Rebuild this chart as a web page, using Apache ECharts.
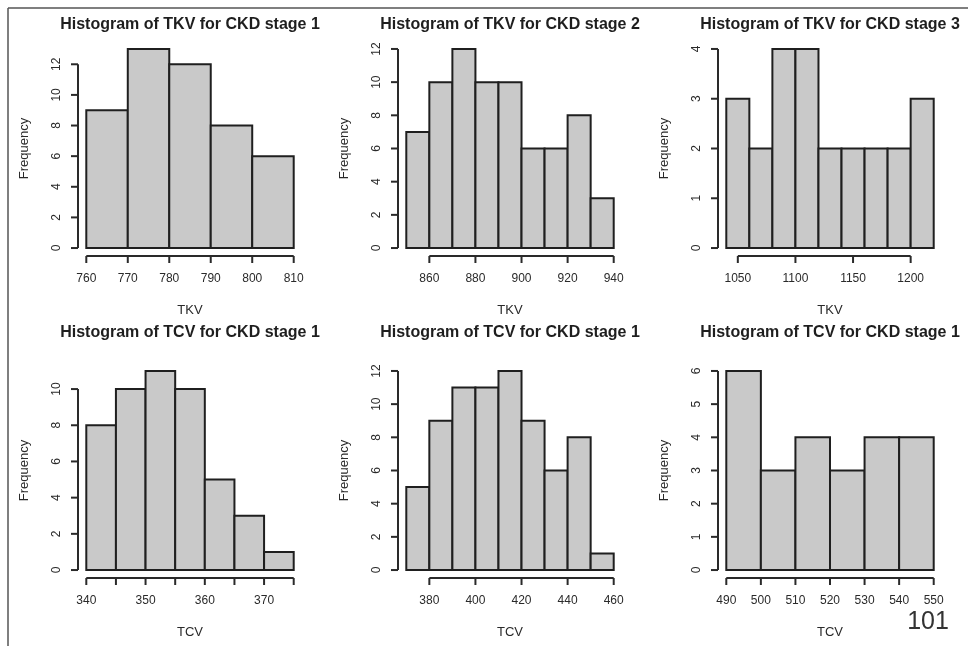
<!DOCTYPE html>
<html><head><meta charset="utf-8">
<script src="https://cdn.jsdelivr.net/npm/echarts@6/dist/echarts.min.js"></script>
<style>html,body{margin:0;padding:0;background:#fff}#c{width:968px;height:646px}</style>
</head><body><div id="c"></div>
<script>
// ---- data ----
const titles = [
  'Histogram of TKV for CKD stage 1',
  'Histogram of TKV for CKD stage 2',
  'Histogram of TKV for CKD stage 3',
  'Histogram of TCV for CKD stage 1',
  'Histogram of TCV for CKD stage 1',
  'Histogram of TCV for CKD stage 1'
];
const xNames = ['TKV', 'TKV', 'TKV', 'TCV', 'TCV', 'TCV'];
const yName = 'Frequency';

const tkv1Breaks = [760, 770, 780, 790, 800, 810];
const tkv1Counts = [9, 13, 12, 8, 6];
const tkv2Breaks = [850, 860, 870, 880, 890, 900, 910, 920, 930, 940];
const tkv2Counts = [7, 10, 12, 10, 10, 6, 6, 8, 3];
const tkv3Breaks = [1040, 1060, 1080, 1100, 1120, 1140, 1160, 1180, 1200, 1220];
const tkv3Counts = [3, 2, 4, 4, 2, 2, 2, 2, 3];
const tcv1Breaks = [340, 345, 350, 355, 360, 365, 370, 375];
const tcv1Counts = [8, 10, 11, 10, 5, 3, 1];
const tcv2Breaks = [370, 380, 390, 400, 410, 420, 430, 440, 450, 460];
const tcv2Counts = [5, 9, 11, 11, 12, 9, 6, 8, 1];
const tcv3Breaks = [490, 500, 510, 520, 530, 540, 550];
const tcv3Counts = [6, 3, 4, 3, 4, 4];

const xTicks1 = [760, 770, 780, 790, 800, 810];
const xLabels1 = [760, 770, 780, 790, 800, 810];
const xTicks2 = [860, 880, 900, 920, 940];
const xLabels2 = [860, 880, 900, 920, 940];
const xTicks3 = [1050, 1100, 1150, 1200];
const xLabels3 = [1050, 1100, 1150, 1200];
const xTicks4 = [340, 345, 350, 355, 360, 365, 370, 375];
const xLabels4 = [340, 350, 360, 370];
const xTicks5 = [380, 400, 420, 440, 460];
const xLabels5 = [380, 400, 420, 440, 460];
const xTicks6 = [490, 500, 510, 520, 530, 540, 550];
const xLabels6 = [490, 500, 510, 520, 530, 540, 550];

const yTicks1 = [0, 2, 4, 6, 8, 10, 12];
const yTicks2 = [0, 2, 4, 6, 8, 10, 12];
const yTicks3 = [0, 1, 2, 3, 4];
const yTicks4 = [0, 2, 4, 6, 8, 10];
const yTicks5 = [0, 2, 4, 6, 8, 10, 12];
const yTicks6 = [0, 1, 2, 3, 4, 5, 6];

const pageNumber = '101';

// ---- layout ----
const panels = [
  {breaks: tkv1Breaks, counts: tkv1Counts, xt: xTicks1, xl: xLabels1, yt: yTicks1},
  {breaks: tkv2Breaks, counts: tkv2Counts, xt: xTicks2, xl: xLabels2, yt: yTicks2},
  {breaks: tkv3Breaks, counts: tkv3Counts, xt: xTicks3, xl: xLabels3, yt: yTicks3},
  {breaks: tcv1Breaks, counts: tcv1Counts, xt: xTicks4, xl: xLabels4, yt: yTicks4},
  {breaks: tcv2Breaks, counts: tcv2Counts, xt: xTicks5, xl: xLabels5, yt: yTicks5},
  {breaks: tcv3Breaks, counts: tcv3Counts, xt: xTicks6, xl: xLabels6, yt: yTicks6}
];
const colLeft = [78, 398, 718];
const rowTop = [41, 363];
const GW = 224, GH = 215;
const FONT = '"Liberation Sans", Arial, sans-serif';
const TXT = '#2a2a2a';
const plain = v => String(Math.round(v));

const grids = [], xAxes = [], yAxes = [], series = [], graphics = [];

panels.forEach((p, i) => {
  const col = i % 3, row = Math.floor(i / 3);
  const left = colLeft[col], top = rowTop[row];
  const bMin = p.breaks[0], bMax = p.breaks[p.breaks.length - 1];
  const xPad = 0.04 * (bMax - bMin);
  const yTop = Math.max.apply(null, p.counts);
  const yPad = 0.04 * yTop;
  const xMin = bMin - xPad, xMax = bMax + xPad;
  const yMin = -yPad, yMax = yTop + yPad;

  grids.push({left: left, top: top, width: GW, height: GH, containLabel: false});
  xAxes.push({
    gridIndex: i, type: 'value', min: xMin, max: xMax,
    axisLine: {show: false}, axisTick: {show: false}, splitLine: {show: false},
    axisLabel: {customValues: p.xl, formatter: plain, margin: 17, fontSize: 12, color: TXT, fontFamily: FONT},
    name: xNames[i], nameLocation: 'middle', nameGap: 48,
    nameTextStyle: {fontSize: 13, color: TXT, fontFamily: FONT}
  });
  yAxes.push({
    gridIndex: i, type: 'value', min: yMin, max: yMax,
    axisLine: {show: false}, axisTick: {show: false}, splitLine: {show: false},
    axisLabel: {customValues: p.yt, formatter: plain, rotate: 90, margin: 15, fontSize: 12, color: TXT, fontFamily: FONT},
    name: yName, nameLocation: 'middle', nameGap: 47,
    nameTextStyle: {fontSize: 13, color: TXT, fontFamily: FONT}
  });

  const binData = p.counts.map((c, k) => [p.breaks[k], p.breaks[k + 1], c]);
  series.push({
    type: 'custom', xAxisIndex: i, yAxisIndex: i, silent: true,
    data: binData,
    encode: {x: [0, 1], y: 2},
    renderItem: function (params, api) {
      const a = api.coord([api.value(0), 0]);
      const b = api.coord([api.value(1), api.value(2)]);
      return {
        type: 'rect',
        shape: {x: a[0], y: b[1], width: b[0] - a[0], height: a[1] - b[1]},
        style: {fill: '#c9c9c9', stroke: '#1f1f1f', lineWidth: 2}
      };
    }
  });

  // R-style axis lines with ticks, drawn through the axis scales
  series.push({
    type: 'custom', xAxisIndex: i, yAxisIndex: i, silent: true, clip: false,
    data: [[p.xt[0], yMin]],
    renderItem: function (params, api) {
      const children = [];
      const st = {stroke: '#2a2a2a', lineWidth: 2, fill: null};
      const xa = api.coord([p.xt[0], yMin]);
      const xb = api.coord([p.xt[p.xt.length - 1], yMin]);
      children.push({type: 'line', shape: {x1: xa[0], y1: xa[1], x2: xb[0], y2: xb[1]}, style: st});
      p.xt.forEach(v => {
        const q = api.coord([v, yMin]);
        children.push({type: 'line', shape: {x1: q[0], y1: q[1], x2: q[0], y2: q[1] + 7}, style: st});
      });
      const ya = api.coord([xMin, p.yt[0]]);
      const yb = api.coord([xMin, p.yt[p.yt.length - 1]]);
      children.push({type: 'line', shape: {x1: ya[0], y1: ya[1], x2: yb[0], y2: yb[1]}, style: st});
      p.yt.forEach(v => {
        const q = api.coord([xMin, v]);
        children.push({type: 'line', shape: {x1: q[0], y1: q[1], x2: q[0] - 7, y2: q[1]}, style: st});
      });
      return {type: 'group', children: children};
    }
  });

  graphics.push({
    type: 'text', x: left + GW / 2, y: row === 0 ? 25 : 333,
    style: {text: titles[i], textAlign: 'center', textVerticalAlign: 'middle',
      font: 'bold 16px ' + FONT, fill: '#1e1e1e'}
  });
});

// frame
graphics.push({type: 'line', shape: {x1: 8, y1: 8, x2: 968, y2: 8}, style: {stroke: '#555', lineWidth: 1.5}});
graphics.push({type: 'line', shape: {x1: 8, y1: 8, x2: 8, y2: 646}, style: {stroke: '#555', lineWidth: 1.5}});
graphics.push({
  type: 'text', x: 928, y: 622,
  style: {text: pageNumber, textAlign: 'center', textVerticalAlign: 'middle',
    font: '25px ' + FONT, fill: '#333'}
});

const chart = echarts.init(document.getElementById('c'), null, {renderer: 'canvas'});
chart.setOption({
  backgroundColor: '#ffffff',
  animation: false,
  grid: grids, xAxis: xAxes, yAxis: yAxes, series: series,
  graphic: graphics
});
</script>
</body></html>
